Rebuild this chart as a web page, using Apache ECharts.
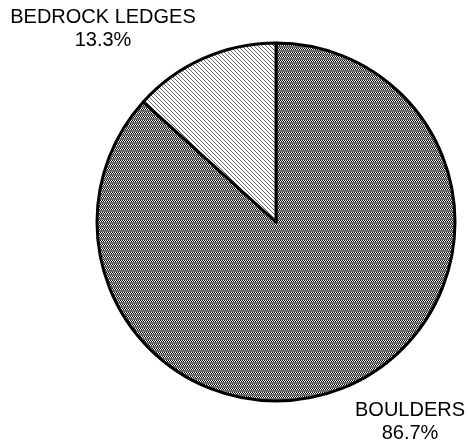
<!DOCTYPE html>
<html>
<head>
<meta charset="utf-8">
<script src="https://cdn.jsdelivr.net/npm/echarts@6/dist/echarts.min.js"></script>
<style>
  html, body { margin: 0; padding: 0; background: #fff; }
  #pieCover { width: 468px; height: 441px; }
</style>
</head>
<body>
<div id="pieCover"></div>
<script>
    var categories = ['BOULDERS', 'BEDROCK LEDGES'];
    var shares = [86.7, 13.3];

    // boulders: dense dither, bedrock: light diagonal hatch
    function makeBoulderPattern(){
      var c = document.createElement('canvas');
      c.width = 2; c.height = 4;
      var ctx = c.getContext('2d');
      ctx.fillStyle = '#ffffff'; ctx.fillRect(0, 0, 2, 4);
      ctx.fillStyle = '#000000';
      ctx.fillRect(0, 0, 1, 1); ctx.fillRect(1, 1, 1, 1);
      ctx.fillStyle = '#6e6e6e'; ctx.fillRect(0, 2, 2, 2);
      return c;
    }
    function makeHatchPattern(){
      var c = document.createElement('canvas');
      c.width = 4; c.height = 4;
      var ctx = c.getContext('2d');
      ctx.fillStyle = '#ffffff'; ctx.fillRect(0, 0, 4, 4);
      ctx.fillStyle = '#6a6a6a';
      for(var i = 0; i < 4; i++){
        ctx.fillRect(i, i, 1, 1);
      }
      return c;
    }
    var fills = [makeBoulderPattern(), makeHatchPattern()];
    var labelPos = [[410, 421.5], [103, 28.5]];

    var pieData = [];
    categories.forEach((name, i) =>{
        pieData.push({
            name: name,
            value: shares[i],
            itemStyle: { color: { image: fills[i], repeat: 'repeat' } }
        });
    });

    var pieOption = {
      animation: false,
      series: [
        {
          type: 'pie',
          radius: 179,
          center: [276, 222],
          startAngle: 90,
          clockwise: true,
          data: pieData,
          itemStyle: { borderColor: '#000', borderWidth: 3 },
          label: {
            show: true,
            position: 'inside',
            overflow: 'none',
            formatter: function(p){ return p.name + '\n' + p.value.toFixed(1) + '%'; },
            fontFamily: 'Liberation Sans, Arial, sans-serif',
            fontSize: 20,
            lineHeight: 23,
            color: '#000',
            align: 'center'
          },
          labelLine: { show: false },
          labelLayout: function(params){
            var p = labelPos[params.dataIndex];
            return { x: p[0], y: p[1], align: 'center', verticalAlign: 'middle' };
          },
          emphasis: { disabled: true }
        }
      ]
    };

    var myChart = echarts.init(document.getElementById('pieCover'));
    pieOption && myChart.setOption(pieOption, true);
</script>
</body>
</html>
